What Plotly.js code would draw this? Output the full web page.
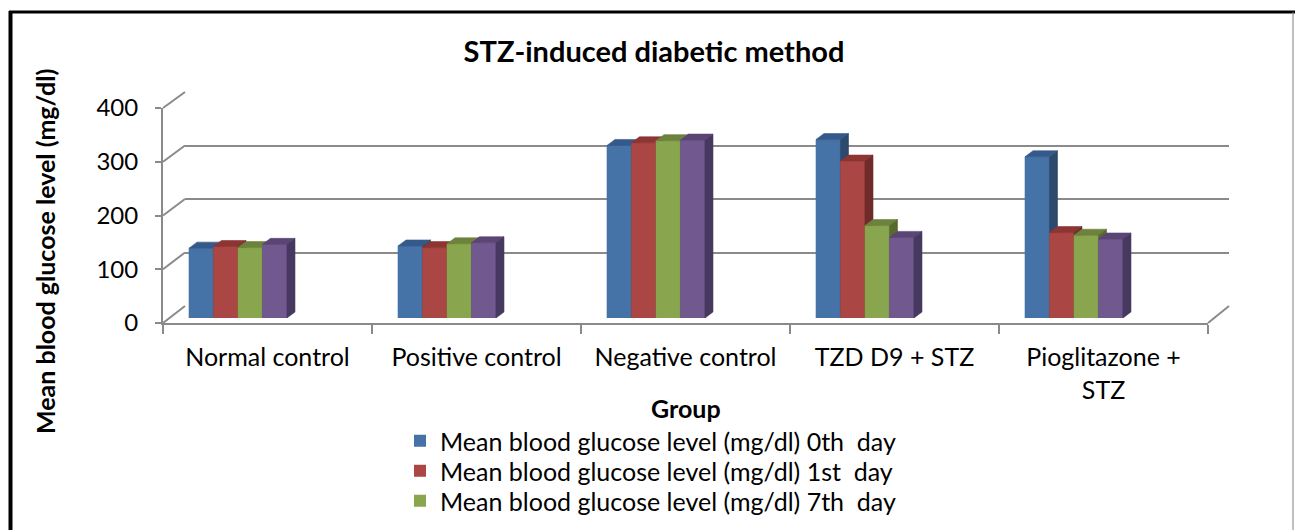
<!DOCTYPE html>
<html>
<head>
<meta charset="utf-8">
<script src="https://cdn.plot.ly/plotly-3.0.1.min.js"></script>
<style>html,body{margin:0;padding:0;background:#fff;}#chart{width:1295px;height:530px;}</style>
</head>
<body>
<div id="chart"></div>
<script>
// ---- data ----
const categories = ['Normal control', 'Positive control', 'Negative control', 'TZD D9 + STZ', 'Pioglitazone +<br>STZ'];
const seriesNames = [
  'Mean blood glucose level (mg/dl) 0th\u00a0 day',
  'Mean blood glucose level (mg/dl) 1st\u00a0 day',
  'Mean blood glucose level (mg/dl) 7th\u00a0 day',
  'Mean blood glucose level (mg/dl) 14th\u00a0 day'
];
const day0  = [130, 134, 321, 332, 300];
const day1  = [133, 131, 326, 292, 159];
const day7  = [131, 138, 330, 172, 154];
const day14 = [137, 140, 331, 150, 147];
const yTicks = [0, 100, 200, 300, 400];

// ---- styles ----
const frontColors = ['#4572A7', '#AA4643', '#89A54E', '#71588F'];
const topColors   = ['#35598a', '#8c3533', '#6c823d', '#5a4575'];
const sideColors  = ['#2c4a6c', '#702a29', '#58692f', '#473860'];
const FONT = 'Lato, "Noto Sans", sans-serif';
const GRAY = '#8a8a8a';

// geometry (pixels)
const W = 1295, H = 530;
const L = 163, R = 66, T = 92, B = 207;
const PW = W - L - R, PH = H - T - B;
const px2x = p => (p - L) / PW;
const py2y = p => (H - B - p) / PH;

const barW = 0.1172, off0 = -0.3756;
const dx = 8 * 5 / 1045;       // depth in x units
const dy = 6 * 400 / 215;      // depth in y units

const allSeries = [day0, day1, day7, day14];
const legendIds = ['legend', 'legend2', 'legend3', 'legend4'];
const traces = [];

// subplot activators
traces.push({type: 'scatter', x: [null], y: [null], xaxis: 'x', yaxis: 'y', showlegend: false, hoverinfo: 'skip'});
traces.push({type: 'scatter', x: [null], y: [null], xaxis: 'x2', yaxis: 'y2', showlegend: false, hoverinfo: 'skip'});

// bars (front faces, legend)
allSeries.forEach((vals, s) => {
  traces.push({
    type: 'bar',
    name: seriesNames[s],
    x: categories.map((c, i) => i + off0 + s * barW + barW / 2),
    y: vals,
    width: barW,
    xaxis: 'x2', yaxis: 'y3',
    marker: {color: frontColors[s], line: {width: 0}},
    legend: legendIds[s],
    showlegend: s < 3,
    hoverinfo: 'skip'
  });
});

// 3D faces drawn as polygons from the same values
allSeries.forEach((vals, s) => {
  const fx = [], fy = [], tx = [], ty = [], sx = [], sy = [];
  vals.forEach((v, i) => {
    const l = i + off0 + s * barW, r = l + barW;
    fx.push(l, r, r, l, l, null); fy.push(0, 0, v, v, 0, null);
    tx.push(l, l + dx, r + dx, r, l, null); ty.push(v, v + dy, v + dy, v, v, null);
    sx.push(r, r + dx, r + dx, r, r, null); sy.push(0, dy, v + dy, v, 0, null);
  });
  [[fx, fy, frontColors[s]], [tx, ty, topColors[s]], [sx, sy, sideColors[s]]].forEach(([xx, yy, col]) => {
    traces.push({
      type: 'scatter', mode: 'lines', x: xx, y: yy, fill: 'toself', fillcolor: col,
      line: {width: 0.6, color: col}, connectgaps: false,
      xaxis: 'x2', yaxis: 'y3', showlegend: false, hoverinfo: 'skip'
    });
  });
});

// shapes: left diagonals, right floor diagonal, frame
const shapes = [];
const frontTop = 215 / PH, backBot = 17 / PH;
yTicks.forEach(v => {
  shapes.push({type: 'line', xref: 'paper', yref: 'paper',
    x0: 0, y0: v / 400 * frontTop, x1: 22 / PW, y1: backBot + v / 400 * (1 - backBot),
    line: {color: GRAY, width: 2}, layer: 'below'});
});
shapes.push({type: 'line', xref: 'paper', yref: 'paper',
  x0: 1045 / PW, y0: 0, x1: 1, y1: backBot, line: {color: GRAY, width: 2}, layer: 'below'});
// frame
shapes.push({type: 'line', xref: 'paper', yref: 'paper', x0: px2x(9), y0: py2y(12), x1: px2x(1295), y1: py2y(12), line: {color: '#000', width: 3}});
shapes.push({type: 'line', xref: 'paper', yref: 'paper', x0: px2x(10.5), y0: py2y(11), x1: px2x(10.5), y1: py2y(540), line: {color: '#000', width: 4}});
shapes.push({type: 'line', xref: 'paper', yref: 'paper', x0: px2x(1293), y0: py2y(12), x1: px2x(1293), y1: py2y(540), line: {color: '#7f7f7f', width: 1}});

const legendTops = [418, 448, 478];
const mkLegend = top => ({x: px2x(400), y: py2y(top), xanchor: 'left', yanchor: 'top', bgcolor: 'rgba(0,0,0,0)',
  font: {family: FONT, size: 25, color: '#000'}, itemclick: false, itemdoubleclick: false});

const layout = {
  width: W, height: H,
  margin: {l: L, r: R, t: T, b: B, pad: 0, autoexpand: false},
  paper_bgcolor: '#fff', plot_bgcolor: 'rgba(0,0,0,0)',
  font: {family: FONT, size: 25, color: '#000'},
  barmode: 'overlay',
  title: {text: '<b>STZ-induced diabetic method</b>', font: {family: FONT, size: 29, color: '#000'},
    x: 654 / W, xref: 'container', xanchor: 'center', y: 1 - 52 / H, yref: 'container', yanchor: 'middle'},
  showlegend: true,
  legend: mkLegend(legendTops[0]),
  legend2: mkLegend(legendTops[1]),
  legend3: mkLegend(legendTops[2]),
  // back wall
  xaxis: {domain: [22 / PW, 1], range: [0, 1], anchor: 'y', visible: false, showgrid: false, zeroline: false, fixedrange: true},
  yaxis: {
    domain: [backBot, 1], range: [0, 400], anchor: 'x',
    tickmode: 'array', tickvals: yTicks, showticklabels: false, ticks: '',
    showgrid: true, gridcolor: GRAY, gridwidth: 2, zeroline: false, showline: false, fixedrange: true
  },
  // front axes
  xaxis2: {
    domain: [0, 1045 / PW], range: [-0.5, 4.5], type: 'linear', anchor: 'y2',
    tickmode: 'array', tickvals: categories.map((c, i) => i), ticktext: categories,
    ticks: 'outside', ticklen: 11, tickcolor: 'rgba(0,0,0,0)',
    minor: {tickmode: 'linear', tick0: -0.5, dtick: 1, ticks: 'outside', ticklen: 9, tickcolor: GRAY, tickwidth: 2, showgrid: false},
    showline: true, linecolor: GRAY, linewidth: 2, showgrid: false, zeroline: false,
    tickfont: {family: FONT, size: 25, color: '#000'}, fixedrange: true
  },
  yaxis2: {
    domain: [0, frontTop], range: [0, 400], anchor: 'x2', tickmode: 'array', tickvals: yTicks,
    ticks: 'outside', ticklen: 6, tickcolor: GRAY, tickwidth: 2, ticklabelstandoff: 12,
    showline: true, linecolor: GRAY, linewidth: 2, showgrid: false, zeroline: false,
    tickfont: {family: FONT, size: 24, color: '#000'}, fixedrange: true
  },
  // bars (slightly behind the front plane)
  yaxis3: {
    domain: [5 / PH, (5 + 215) / PH], range: [0, 400], anchor: 'x2',
    visible: false, showgrid: false, zeroline: false, fixedrange: true
  },
  annotations: [
    {text: '<b>Mean blood glucose level (mg/dl)</b>', xref: 'paper', yref: 'paper',
      x: px2x(45), y: py2y(252), textangle: -90, showarrow: false, xanchor: 'center', yanchor: 'middle',
      font: {family: FONT, size: 25, color: '#000'}},
    {text: '<b>Group</b>', xref: 'paper', yref: 'paper', x: px2x(686), y: py2y(408),
      showarrow: false, xanchor: 'center', yanchor: 'middle', font: {family: FONT, size: 25, color: '#000'}}
  ],
  shapes: shapes
};

Plotly.newPlot('chart', traces, layout, {displayModeBar: false, staticPlot: true});
</script>
</body>
</html>
